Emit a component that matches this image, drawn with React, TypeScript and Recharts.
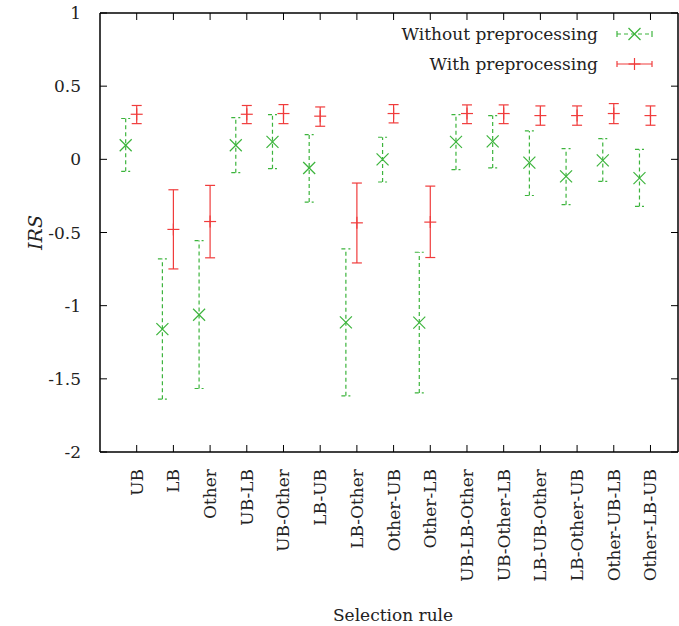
import { ScatterChart, Scatter, XAxis, YAxis, ErrorBar, Legend } from "recharts";

const rules = [
  "UB", "LB", "Other", "UB-LB", "UB-Other", "LB-UB", "LB-Other", "Other-UB",
  "Other-LB", "UB-LB-Other", "UB-Other-LB", "LB-UB-Other", "LB-Other-UB", "Other-UB-LB", "Other-LB-UB",
];

// without preprocessing: mean, lower and upper end of the bar
const withoutMean = [0.096, -1.16, -1.062, 0.096, 0.119, -0.059, -1.114, 0.0, -1.116, 0.119, 0.123, -0.023, -0.116, -0.007, -0.128];
const withoutLow = [-0.082, -1.639, -1.566, -0.091, -0.064, -0.292, -1.616, -0.155, -1.596, -0.071, -0.059, -0.247, -0.31, -0.151, -0.322];
const withoutHigh = [0.279, -0.68, -0.555, 0.285, 0.306, 0.169, -0.612, 0.151, -0.635, 0.306, 0.299, 0.194, 0.073, 0.142, 0.068];

// with preprocessing
const withMean = [0.308, -0.479, -0.425, 0.308, 0.313, 0.295, -0.434, 0.313, -0.429, 0.313, 0.313, 0.299, 0.299, 0.313, 0.299];
const withLow = [0.244, -0.749, -0.673, 0.244, 0.244, 0.226, -0.708, 0.249, -0.671, 0.244, 0.244, 0.233, 0.233, 0.244, 0.233];
const withHigh = [0.368, -0.208, -0.178, 0.368, 0.374, 0.358, -0.162, 0.374, -0.183, 0.372, 0.372, 0.365, 0.365, 0.381, 0.365];

const yTicks = [-2, -1.5, -1, -0.5, 0, 0.5, 1];
const xTicks = rules.map((_, i) => i + 1);

const GREEN = "#3cb43c";
const RED = "#f03c3c";
const FONT = "'DejaVu Serif', serif";
const TEXT = "#222";
const FS = 17;
const X_DOMAIN = [0, 15.75];

const withoutData = rules.map((r, i) => ({
  rule: r,
  x: i + 1 - 0.3,
  y: withoutMean[i],
  err: [withoutMean[i] - withoutLow[i], withoutHigh[i] - withoutMean[i]],
}));

const withData = rules.map((r, i) => ({
  rule: r,
  x: i + 1,
  y: withMean[i],
  err: [withMean[i] - withLow[i], withHigh[i] - withMean[i]],
}));

function Cross({ cx, cy }: any) {
  return (
    <g stroke={GREEN} strokeWidth={1.2}>
      <line x1={cx - 6} y1={cy - 6} x2={cx + 6} y2={cy + 6} />
      <line x1={cx - 6} y1={cy + 6} x2={cx + 6} y2={cy - 6} />
    </g>
  );
}

function Plus({ cx, cy }: any) {
  return (
    <g stroke={RED} strokeWidth={1.2}>
      <line x1={cx - 6} y1={cy} x2={cx + 6} y2={cy} />
      <line x1={cx} y1={cy - 6} x2={cx} y2={cy + 6} />
    </g>
  );
}

function BottomTick({ x, y, payload }: any) {
  const tx = x + 6;
  const ty = y + 17;
  return (
    <g>
      <line x1={x} y1={y} x2={x} y2={y - 7} stroke="#000" />
      <text x={tx} y={ty} transform={`rotate(-90 ${tx} ${ty})`} textAnchor="end" fontSize={FS} fontFamily={FONT} fill={TEXT}>
        {rules[payload.value - 1]}
      </text>
    </g>
  );
}

function TopTick({ x, y }: any) {
  return <line x1={x} y1={y} x2={x} y2={y + 7} stroke="#000" />;
}

function LeftTick({ x, y, payload }: any) {
  return (
    <g>
      <line x1={x} y1={y} x2={x + 7} y2={y} stroke="#000" />
      <text x={x - 19} y={y + 6} textAnchor="end" fontSize={FS} fontFamily={FONT} fill={TEXT}>
        {String(payload.value)}
      </text>
    </g>
  );
}

function RightTick({ x, y }: any) {
  return <line x1={x} y1={y} x2={x - 7} y2={y} stroke="#000" />;
}

function LegendBox() {
  return (
    <svg width={290} height={60} style={{ display: "block" }}>
      <text x={218} y={22} textAnchor="end" fontSize={FS} fontFamily={FONT} fill={TEXT}>Without preprocessing</text>
      <g stroke={GREEN} strokeWidth={1.2}>
        <line x1={237} y1={16} x2={272} y2={16} strokeDasharray="4 3" />
        <line x1={237} y1={13} x2={237} y2={19} />
        <line x1={272} y1={13} x2={272} y2={19} />
      </g>
      <Cross cx={254.5} cy={16} />
      <text x={218} y={52} textAnchor="end" fontSize={FS} fontFamily={FONT} fill={TEXT}>With preprocessing</text>
      <g stroke={RED} strokeWidth={1.2}>
        <line x1={237} y1={46} x2={272} y2={46} />
        <line x1={237} y1={43} x2={237} y2={49} />
        <line x1={272} y1={43} x2={272} y2={49} />
      </g>
      <Plus cx={254.5} cy={46} />
    </svg>
  );
}

const axisLine = { stroke: "#000", strokeWidth: 1.5 };

export default function App() {
  return (
    <div style={{ position: "absolute", left: 0, top: 0, background: "#fff" }}>
      <ScatterChart width={679} height={626} margin={{ top: 12, right: 0, bottom: 173, left: 99 }}>
        <XAxis
          xAxisId="bottom"
          type="number"
          dataKey="x"
          domain={X_DOMAIN}
          ticks={xTicks}
          interval={0}
          height={1}
          tickSize={0}
          tickMargin={0}
          tickLine={false}
          axisLine={axisLine}
          tick={<BottomTick />}
          allowDataOverflow
          label={({ viewBox }: any) => (
            <text x={viewBox.x + viewBox.width / 2 + 4} y={viewBox.y + 169} textAnchor="middle" fontSize={FS} fontFamily={FONT} fill={TEXT}>
              Selection rule
            </text>
          )}
        />
        <XAxis
          xAxisId="top"
          orientation="top"
          type="number"
          dataKey="x"
          domain={X_DOMAIN}
          ticks={xTicks}
          interval={0}
          height={1}
          tickSize={0}
          tickMargin={0}
          tickLine={false}
          axisLine={axisLine}
          tick={<TopTick />}
          allowDataOverflow
        />
        <YAxis
          yAxisId="left"
          type="number"
          dataKey="y"
          domain={[-2, 1]}
          ticks={yTicks}
          interval={0}
          width={1}
          tickSize={0}
          tickMargin={0}
          tickLine={false}
          axisLine={axisLine}
          tick={<LeftTick />}
          allowDataOverflow
          label={({ viewBox }: any) => {
            const lx = viewBox.x - 57;
            const ly = viewBox.y + viewBox.height / 2;
            return (
              <text x={lx} y={ly} transform={`rotate(-90 ${lx} ${ly})`} textAnchor="middle" fontSize={19} fontStyle="italic" fontFamily={FONT} fill={TEXT}>
                IRS
              </text>
            );
          }}
        />
        <YAxis
          yAxisId="right"
          orientation="right"
          type="number"
          dataKey="y"
          domain={[-2, 1]}
          ticks={yTicks}
          interval={0}
          width={1}
          tickSize={0}
          tickMargin={0}
          tickLine={false}
          axisLine={axisLine}
          tick={<RightTick />}
          allowDataOverflow
        />
        <Legend
          layout="vertical"
          align="center"
          verticalAlign="middle"
          content={() => <LegendBox />}
          wrapperStyle={{ left: 380, top: 18, width: 290, height: 60 }}
        />
        <Scatter
          name="Without preprocessing"
          data={withoutData}
          xAxisId="bottom"
          yAxisId="left"
          shape={<Cross />}
          isAnimationActive={false}
        >
          <ErrorBar dataKey="err" direction="y" width={4.5} stroke={GREEN} strokeWidth={1.2} strokeDasharray="4 3" isAnimationActive={false} />
        </Scatter>
        <Scatter
          name="With preprocessing"
          data={withData}
          xAxisId="bottom"
          yAxisId="left"
          shape={<Plus />}
          isAnimationActive={false}
        >
          <ErrorBar dataKey="err" direction="y" width={5} stroke={RED} strokeWidth={1.2} isAnimationActive={false} />
        </Scatter>
      </ScatterChart>
    </div>
  );
}
